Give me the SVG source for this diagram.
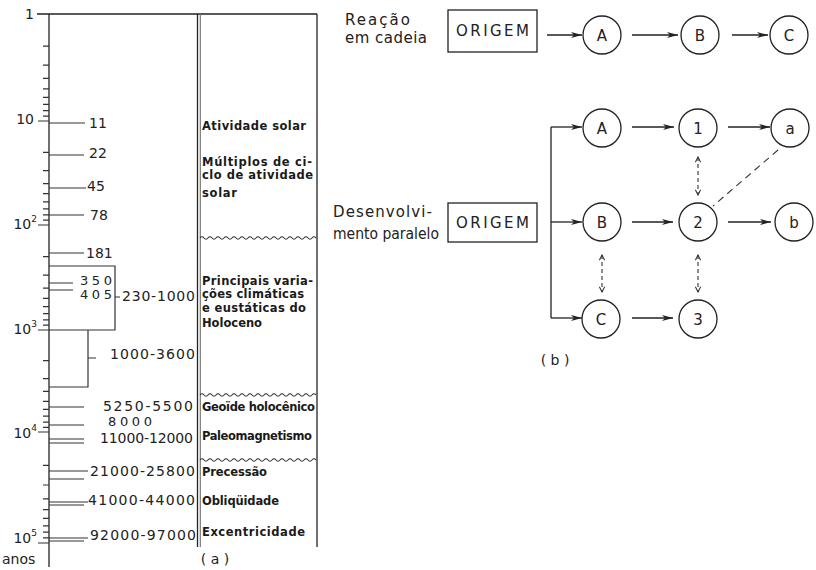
<svg xmlns="http://www.w3.org/2000/svg" width="816" height="570" viewBox="0 0 816 570">
<defs>
<style>
.ln{stroke:#222;stroke-width:1.3;fill:none}
.tk{stroke:#333;stroke-width:1.2;fill:none}
.dl{stroke:#333;stroke-width:1.2;fill:none}
.wv{stroke:#333;stroke-width:1.1;fill:none}
.ax{font-family:"DejaVu Sans",sans-serif;font-size:14px;fill:#222}
.sm{font-size:13px}
.cl{font-family:"DejaVu Sans",sans-serif;font-size:11.5px;fill:#1a1a1a;font-weight:bold}
.lb{font-family:"DejaVu Sans",sans-serif;font-size:15px;fill:#222}
.nd{font-family:"DejaVu Sans",sans-serif;font-size:15px;fill:#222;text-anchor:middle}
.cir{fill:#fff;stroke:#222;stroke-width:1.3}
.box{fill:#fff;stroke:#222;stroke-width:1.3}
.ar{stroke:#222;stroke-width:1.3;fill:none;marker-end:url(#ah)}
.da{stroke:#333;stroke-width:1.1;fill:none;stroke-dasharray:4,3;marker-start:url(#sh);marker-end:url(#sh)}
</style>
<marker id="ah" viewBox="0 0 12 8" refX="11" refY="4" markerWidth="12" markerHeight="8" markerUnits="userSpaceOnUse" orient="auto">
<path d="M0,1 L11,4 L0,7 L3,4 z" fill="#222"/>
</marker>
<marker id="sh" viewBox="0 0 8 8" refX="7" refY="4" markerWidth="7" markerHeight="7" markerUnits="userSpaceOnUse" orient="auto-start-reverse">
<path d="M1,1 L7,4 L1,7" fill="none" stroke="#333" stroke-width="1.2"/>
</marker>
</defs>
<rect width="816" height="570" fill="#fff"/>

<!-- (a) time scale chart -->
<g id="chart-a">
<g id="axis">
<line class="ln" x1="49" y1="14" x2="49" y2="567"/>
<line class="ln" x1="37" y1="14" x2="317" y2="14"/>
<line class="ln" x1="197.5" y1="14" x2="197.5" y2="547" stroke-width="1.6"/>
<line x1="200.3" y1="14" x2="200.3" y2="547" stroke="#777" stroke-width="1.2"/>
<line class="ln" x1="317" y1="14" x2="317" y2="547"/>
<path class="tk" d="M38,121H49 M38,225H49 M38,330H49 M38,432H49 M38,543H49
M43,46.2H49 M43,65.1H49 M43,78.4H49 M43,88.8H49 M43,97.3H49 M43,104.4H49 M43,110.6H49 M43,116.1H49
M43,152.3H49 M43,170.6H49 M43,183.6H49 M43,193.7H49 M43,201.9H49 M43,208.9H49 M43,214.9H49 M43,220.2H49
M43,256.6H49 M43,275.1H49 M43,288.2H49 M43,298.4H49 M43,306.7H49 M43,313.7H49 M43,319.8H49 M43,325.2H49
M43,360.7H49 M43,378.7H49 M43,391.4H49 M43,401.3H49 M43,409.4H49 M43,416.2H49 M43,422.1H49 M43,427.3H49
M43,465.4H49 M43,485H49 M43,498.8H49 M43,509.6H49 M43,518.4H49 M43,525.8H49 M43,532.2H49 M43,537.9H49"/>
<text class="ax" x="34" y="19" text-anchor="end">1</text>
<text class="ax" x="34" y="124" text-anchor="end">10</text>
<text class="ax" x="37" y="229" text-anchor="end">10<tspan dy="-7" font-size="9">2</tspan></text>
<text class="ax" x="37" y="334" text-anchor="end">10<tspan dy="-7" font-size="9">3</tspan></text>
<text class="ax" x="37" y="438" text-anchor="end">10<tspan dy="-7" font-size="9">4</tspan></text>
<text class="ax" x="37" y="543" text-anchor="end">10<tspan dy="-7" font-size="9">5</tspan></text>
<text class="ax" x="2" y="564">anos</text>
</g>
<g id="periods">
<path class="dl" d="M49,123H85 M49,155H84 M49,188H86 M49,215H84 M49,253H84 M49,283H73 M49,290H73
M49,266H115V330H49 M115,297H120 M49,387H88V330 M88,358H96
M49,407H84 M49,425H84 M49,439H84 M49,443H84 M49,471H88 M49,479H84 M49,502H88 M49,505H84 M49,538H88 M49,541H84"/>
<text class="ax" x="89" y="128">11</text>
<text class="ax" x="89" y="158">22</text>
<text class="ax" x="87" y="191">45</text>
<text class="ax" x="90" y="220">78</text>
<text class="ax" x="86" y="258">181</text>
<text class="ax sm" x="80" y="284.5" textLength="32" lengthAdjust="spacing">350</text>
<text class="ax sm" x="80" y="298.5" textLength="32" lengthAdjust="spacing">405</text>
<text class="ax" x="122" y="301" textLength="73" lengthAdjust="spacing">230-1000</text>
<text class="ax" x="110" y="359" textLength="85" lengthAdjust="spacing">1000-3600</text>
<text class="ax" x="103" y="411" textLength="90" lengthAdjust="spacing">5250-5500</text>
<text class="ax sm" x="108" y="426" textLength="44" lengthAdjust="spacing">8000</text>
<text class="ax" x="100" y="442.5" textLength="93" lengthAdjust="spacing">11000-12000</text>
<text class="ax" x="90" y="476" textLength="105" lengthAdjust="spacing">21000-25800</text>
<text class="ax" x="88" y="505" textLength="107" lengthAdjust="spacing">41000-44000</text>
<text class="ax" x="90" y="540" textLength="106" lengthAdjust="spacing">92000-97000</text>
<text class="ax" x="215" y="564" text-anchor="middle">( a )</text>
</g>
<g id="causes">
<path class="wv" d="M200,238 q2,-2.5 4,0 t4,0 t4,0 t4,0 t4,0 t4,0 t4,0 t4,0 t4,0 t4,0 t4,0 t4,0 t4,0 t4,0 t4,0 t4,0 t4,0 t4,0 t4,0 t4,0 t4,0 t4,0 t4,0 t4,0 t4,0 t4,0 t4,0 t4,0 t4,0"/>
<path class="wv" d="M200,395 q2,-2.5 4,0 t4,0 t4,0 t4,0 t4,0 t4,0 t4,0 t4,0 t4,0 t4,0 t4,0 t4,0 t4,0 t4,0 t4,0 t4,0 t4,0 t4,0 t4,0 t4,0 t4,0 t4,0 t4,0 t4,0 t4,0 t4,0 t4,0 t4,0 t4,0"/>
<path class="wv" d="M200,460 q2,-2.5 4,0 t4,0 t4,0 t4,0 t4,0 t4,0 t4,0 t4,0 t4,0 t4,0 t4,0 t4,0 t4,0 t4,0 t4,0 t4,0 t4,0 t4,0 t4,0 t4,0 t4,0 t4,0 t4,0 t4,0 t4,0 t4,0 t4,0 t4,0 t4,0"/>
<text class="cl" x="202" y="130" textLength="104" lengthAdjust="spacing">Atividade solar</text>
<text class="cl" x="202" y="166" textLength="110" lengthAdjust="spacing">Múltiplos de ci-</text>
<text class="cl" x="202" y="179" textLength="111" lengthAdjust="spacing">clo de atividade</text>
<text class="cl" x="202" y="197" textLength="35" lengthAdjust="spacing">solar</text>
<text class="cl" x="202" y="285" textLength="111" lengthAdjust="spacing">Principais varia-</text>
<text class="cl" x="202" y="298" textLength="102" lengthAdjust="spacing">ções climáticas</text>
<text class="cl" x="202" y="312" textLength="104" lengthAdjust="spacing">e eustáticas do</text>
<text class="cl" x="202" y="327" textLength="60" lengthAdjust="spacing">Holoceno</text>
<text class="cl" x="202" y="411" textLength="113" lengthAdjust="spacing">Geoïde holocênico</text>
<text class="cl" x="202" y="440" textLength="110" lengthAdjust="spacing">Paleomagnetismo</text>
<text class="cl" x="202" y="476" textLength="65" lengthAdjust="spacing">Precessão</text>
<text class="cl" x="202" y="505" textLength="77" lengthAdjust="spacing">Obliqüidade</text>
<text class="cl" x="202" y="536" textLength="103" lengthAdjust="spacing">Excentricidade</text>
</g>
</g>

<!-- (b) -->
<g id="labels-b">
<text class="lb" x="345" y="25" textLength="65" lengthAdjust="spacing">Reação</text>
<text class="lb" x="345" y="43" textLength="82" lengthAdjust="spacing">em cadeia</text>
<text class="lb" x="333" y="217" textLength="99" lengthAdjust="spacing">Desenvolvi-</text>
<text class="lb" x="333" y="239" textLength="106" lengthAdjust="spacingAndGlyphs">mento paralelo</text>
<text class="ax" x="555" y="365" text-anchor="middle">( b )</text>
</g>

<g id="connectors">
<line class="ar" x1="547" y1="35" x2="582" y2="35"/>
<line class="ar" x1="632" y1="35" x2="678" y2="35"/>
<line class="ar" x1="732" y1="35" x2="768" y2="35"/>
<path class="ln" d="M551,127V318"/>
<line class="ar" x1="551" y1="127" x2="582" y2="127"/>
<line class="ar" x1="551" y1="222" x2="582" y2="222"/>
<line class="ar" x1="551" y1="318" x2="582" y2="318"/>
<line class="ar" x1="632" y1="127" x2="674" y2="127"/>
<line class="ar" x1="728" y1="127" x2="770" y2="127"/>
<line class="ar" x1="632" y1="222" x2="673" y2="222"/>
<line class="ar" x1="728" y1="222" x2="771" y2="222"/>
<line class="ar" x1="632" y1="318" x2="673" y2="318"/>
<line class="da" x1="698" y1="157" x2="698" y2="195"/>
<line class="da" x1="602" y1="255" x2="602" y2="292"/>
<line class="da" x1="698" y1="255" x2="698" y2="292"/>
<line x1="778" y1="150" x2="713" y2="206" stroke="#333" stroke-width="1.1" stroke-dasharray="7,5"/>
</g>

<g id="chain-origem"><rect class="box" x="448" y="10" width="89" height="42"/><text class="nd" x="492.5" y="36" textLength="73" lengthAdjust="spacing">ORIGEM</text></g>
<g id="chain-A"><circle class="cir" cx="602" cy="35" r="19"/><text class="nd" x="602" y="40.5">A</text></g>
<g id="chain-B"><circle class="cir" cx="700" cy="35" r="19"/><text class="nd" x="700" y="40.5">B</text></g>
<g id="chain-C"><circle class="cir" cx="789" cy="35" r="19"/><text class="nd" x="789" y="40.5">C</text></g>

<g id="par-origem"><rect class="box" x="448" y="203" width="89" height="39"/><text class="nd" x="492.5" y="228" textLength="73" lengthAdjust="spacing">ORIGEM</text></g>
<g id="par-A"><circle class="cir" cx="602" cy="128" r="19"/><text class="nd" x="602" y="133.5">A</text></g>
<g id="par-B"><circle class="cir" cx="602" cy="222" r="19"/><text class="nd" x="602" y="227.5">B</text></g>
<g id="par-C"><circle class="cir" cx="601" cy="319" r="19"/><text class="nd" x="601" y="324.5">C</text></g>
<g id="par-1"><circle class="cir" cx="698" cy="128" r="19"/><text class="nd" x="698" y="133.5">1</text></g>
<g id="par-2"><circle class="cir" cx="698" cy="222" r="19"/><text class="nd" x="698" y="227.5">2</text></g>
<g id="par-3"><circle class="cir" cx="698" cy="319" r="19"/><text class="nd" x="698" y="324.5">3</text></g>
<g id="par-a"><circle class="cir" cx="790" cy="128" r="19"/><text class="nd" x="790" y="133.5">a</text></g>
<g id="par-b"><circle class="cir" cx="794" cy="222" r="19"/><text class="nd" x="794" y="227.5">b</text></g>
</svg>
